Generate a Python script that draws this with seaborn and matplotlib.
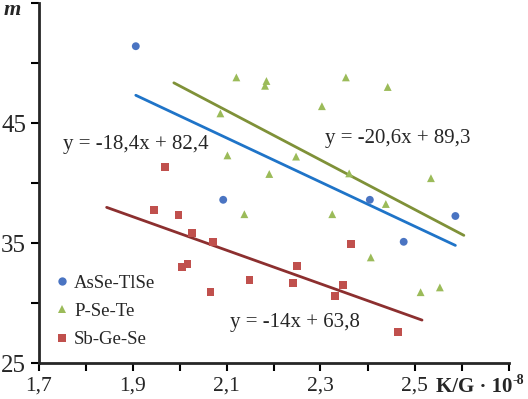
import pandas as pd
import seaborn as sns
import matplotlib.pyplot as plt
from matplotlib.ticker import MultipleLocator, FixedLocator

# data
asse_x = [1.907, 2.093, 2.405, 2.477, 2.587]
asse_y = [51.4, 38.6, 38.6, 35.1, 37.25]

pse_x = [2.087, 2.102, 2.121, 2.185, 2.182, 2.191, 2.248, 2.303, 2.354,
         2.361, 2.443, 2.535, 2.138, 2.325, 2.407, 2.439, 2.513, 2.554]
pse_y = [45.8, 42.3, 48.8, 48.5, 48.1, 40.75, 42.2, 46.4, 48.8,
         40.8, 48.0, 40.4, 37.4, 37.4, 33.8, 38.25, 30.9, 31.3]

sbge_x = [1.945, 1.970, 1.998, 2.026, 2.072, 2.006, 2.017, 2.066, 2.149,
          2.250, 2.242, 2.365, 2.348, 2.331, 2.465]
sbge_y = [37.75, 41.3, 37.3, 35.8, 35.1, 33.0, 33.25, 30.9, 31.9,
          33.1, 31.7, 34.9, 31.5, 30.6, 27.6]

series = ["AsSe-TlSe", "P-Se-Te", "Sb-Ge-Se"]
# trend lines: slope, intercept, x range
slopes = [-18.4, -20.6, -14.0]
intercepts = [82.4, 89.3, 63.8]
fit_x0 = [1.907, 1.988, 1.845]
fit_x1 = [2.587, 2.605, 2.516]
eq_labels = ["y = -18,4x + 82,4", "y = -20,6x + 89,3", "y = -14x + 63,8"]

x_ticks = [1.7, 1.9, 2.1, 2.3, 2.5]
x_tick_labels = ["1,7", "1,9", "2,1", "2,3", "2,5"]
y_ticks = [25, 35, 45]

marker_colors = ["#4a74c2", "#9bbb59", "#c0504d"]
line_colors = ["#1f74c8", "#7f9138", "#8c2f2f"]

df = pd.DataFrame({
    "x": asse_x + pse_x + sbge_x,
    "m": asse_y + pse_y + sbge_y,
    "system": [series[0]] * len(asse_x) + [series[1]] * len(pse_x) + [series[2]] * len(sbge_x),
})

sns.set_style("ticks")
plt.rcParams["font.family"] = ["Liberation Serif", "DejaVu Serif"]

fig = plt.figure(figsize=(5.28, 3.99), dpi=100)
ax = fig.add_axes([38.5 / 528, 36 / 399, 470 / 528, 360 / 399])

for i in range(3):
    fx = [fit_x0[i], fit_x1[i]]
    fy = [slopes[i] * v + intercepts[i] for v in fx]
    sns.lineplot(x=fx, y=fy, color=line_colors[i], lw=2, ax=ax, legend=False)

sns.scatterplot(data=df, x="x", y="m", hue="system", style="system",
                palette=dict(zip(series, marker_colors)),
                markers=dict(zip(series, ["o", "^", "s"])),
                s=32, linewidth=0, ax=ax, zorder=3)

ax.set_xlim(1.7, 2.7)
ax.set_ylim(25, 55)
ax.xaxis.set_major_locator(FixedLocator(x_ticks))
ax.set_xticklabels(x_tick_labels)
ax.xaxis.set_minor_locator(MultipleLocator(0.1))
ax.yaxis.set_major_locator(FixedLocator(y_ticks))
ax.yaxis.set_minor_locator(MultipleLocator(5))
ax.tick_params(axis="both", which="both", direction="out", length=6, width=1.5, color="black")
ax.tick_params(axis="x", labelsize=15.5, pad=4)
ax.tick_params(axis="y", labelsize=18, pad=3)
for side in ["top", "right"]:
    ax.spines[side].set_visible(False)
for side in ["left", "bottom"]:
    ax.spines[side].set_linewidth(2)
ax.set_xlabel("")
ax.set_ylabel("")

# regression equations
ax.text(1.752, 43.2, eq_labels[0], fontsize=15, va="center", ha="left")
ax.text(2.310, 43.7, eq_labels[1], fontsize=15, va="center", ha="left")
ax.text(2.108, 28.35, eq_labels[2], fontsize=15, va="center", ha="left")

# axis titles
fig.text(4 / 528, 1 - 10 / 399, "m", fontsize=16, fontweight="bold", fontstyle="italic",
         va="center", ha="left")
xl = fig.text(436 / 528, 1 - 387 / 399, "K/G · 10", fontsize=15,
              fontweight="bold", va="center", ha="left")
ax.annotate("-8", xy=(1.0, 0.85), xycoords=xl, fontsize=10, fontweight="bold",
            ha="left", va="center", annotation_clip=False)

leg = ax.legend(loc="lower left", bbox_to_anchor=(0.01, 0.02), frameon=False,
                fontsize=13.5, handletextpad=0.05, labelspacing=0.6,
                borderaxespad=0, handlelength=1.2)
for h in leg.legend_handles:
    h.set_markersize(6)

fig.savefig("out.png", dpi=100)
